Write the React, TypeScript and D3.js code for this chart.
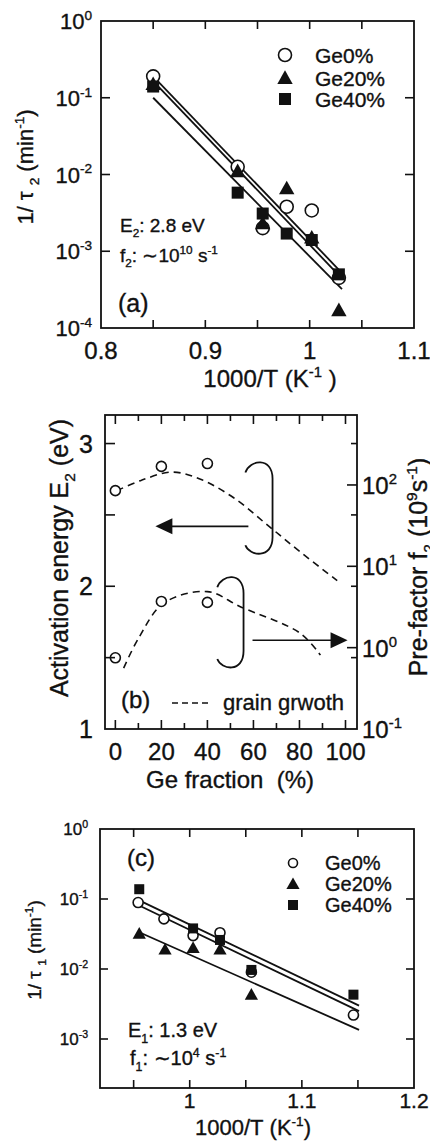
import React, { useEffect, useRef } from "react";
import * as d3 from "d3";

// ---- panel (a): 1/tau2 vs 1000/T ----
const aX = [0.85, 0.931, 0.955, 0.978, 1.002, 1.028];
const aGe0 = [0.19, 0.0126, 0.002, 0.0038, 0.0034, 0.00045];
const aGe20 = [0.15, 0.011, 0.0023, 0.0066, 0.0015, 0.00017];
const aGe40 = [0.14, 0.0058, 0.0031, 0.0017, 0.0014, 0.0005];
const aFitX = [0.85, 1.031];
const aFitGe0 = [0.19, 0.00052];
const aFitGe20 = [0.165, 0.00044];
const aFitGe40 = [0.1, 0.00032];
const aXTicks = [0.8, 0.9, 1, 1.1];
const aXLabels = ["0.8", "0.9", "1", "1.1"];
const aXMinor = [0.85, 0.95, 1.05];
const aYExp = [0, -1, -2, -3, -4];

// ---- panel (b): E2 and f2 vs Ge fraction ----
const geFrac = [0, 20, 40];
const e2Vals = [2.67, 2.84, 2.86];
const f2Vals = [0.75, 3.7, 3.6];
const e2CurveX = [0.7, 10.9, 24.6, 37, 51.4, 66, 80.4, 96.4];
const e2CurveY = [2.67, 2.74, 2.8, 2.75, 2.62, 2.43, 2.24, 2.04];
const f2CurveX = [3.6, 10.1, 21, 39.9, 54.3, 80.4, 89.1];
const f2CurveY = [0.56, 1.31, 3.52, 4.89, 3.19, 1.5, 0.81];
const bXTicks = [0, 20, 40, 60, 80, 100];
const bXMinor = [10, 30, 50, 70, 90];
const bLeftTicks = [1, 2, 3];
const bLeftMinor = [1.5, 2.5];
const bRightExp = [-1, 0, 1, 2];

// ---- panel (c): 1/tau1 vs 1000/T ----
const cGe0X = [0.954, 0.977, 1.003, 1.027, 1.055, 1.146];
const cGe0Y = [0.089, 0.052, 0.03, 0.033, 0.009, 0.0022];
const cGe20X = [0.955, 0.978, 1.003, 1.027, 1.055];
const cGe20Y = [0.032, 0.019, 0.02, 0.019, 0.0043];
const cGe40X = [0.955, 1.003, 1.027, 1.055, 1.146];
const cGe40Y = [0.138, 0.038, 0.026, 0.0097, 0.0043];
const cFitX = [0.954, 1.151];
const cFitTop = [0.097, 0.003];
const cFitMid = [0.082, 0.0025];
const cFitLow = [0.034, 0.00135];
const cXTicks = [1, 1.1, 1.2];
const cXLabels = ["1", "1.1", "1.2"];
const cXMinor = [0.95, 1.05, 1.15];
const cYExp = [0, -1, -2, -3];

const FONT = "'Liberation Sans', Arial, Helvetica, sans-serif";
const INK = "#111";

type Sel = d3.Selection<any, unknown, null, undefined>;
type Part = [string, number?];

// text with sub (-1) / superscript (1) pieces
function rich(g: Sel, x: number, y: number, size: number, parts: Part[], anchor = "start", rot = 0) {
  const t = g
    .append("text")
    .attr("transform", `translate(${x},${y}) rotate(${rot})`)
    .attr("font-family", FONT)
    .attr("font-size", size)
    .attr("fill", INK)
    .attr("stroke", INK)
    .attr("stroke-width", 0.35)
    .attr("text-anchor", anchor);
  let cur = 0;
  parts.forEach(([s, k = 0]) => {
    const target = k === 1 ? -size * 0.42 : k === -1 ? size * 0.28 : 0;
    t.append("tspan")
      .attr("dy", target - cur)
      .attr("font-size", k ? size * 0.62 : size)
      .text(s.replace(/ /g, "\u00A0"));
    cur = target;
  });
  return t;
}

function marker(g: Sel, kind: string, x: number, y: number, s: number) {
  if (kind === "circle") {
    g.append("circle").attr("cx", x).attr("cy", y).attr("r", s / 2)
      .attr("fill", "#fff").attr("stroke", INK).attr("stroke-width", 1.6);
  } else if (kind === "tri") {
    g.append("path")
      .attr("d", `M${x},${y - s * 0.55}L${x + s * 0.55},${y + s * 0.42}L${x - s * 0.55},${y + s * 0.42}Z`)
      .attr("fill", INK);
  } else {
    g.append("rect").attr("x", x - s / 2).attr("y", y - s / 2).attr("width", s).attr("height", s).attr("fill", INK);
  }
}

function frame(g: Sel, x0: number, y0: number, x1: number, y1: number) {
  g.append("rect").attr("x", x0).attr("y", y0).attr("width", x1 - x0).attr("height", y1 - y0)
    .attr("fill", "none").attr("stroke", INK).attr("stroke-width", 1.8);
}

function tick(g: Sel, x1: number, y1: number, x2: number, y2: number) {
  g.append("line").attr("x1", x1).attr("y1", y1).attr("x2", x2).attr("y2", y2)
    .attr("stroke", INK).attr("stroke-width", 1.6);
}

function drawA(svg: Sel) {
  const g = svg.append("g");
  const x = d3.scaleLinear().domain([0.8, 1.1]).range([101, 414]);
  const y = d3.scaleLog().domain([1e-4, 1]).range([328, 21]);
  const [x0, x1] = x.range();
  const [y1, y0] = y.range();

  // fit lines
  const line = d3.line<number>().x((_, i) => x(aFitX[i])).y((d) => y(d));
  [aFitGe0, aFitGe20, aFitGe40].forEach((f) =>
    g.append("path").attr("d", line(f)).attr("fill", "none").attr("stroke", INK).attr("stroke-width", 1.8)
  );

  aX.forEach((v, i) => marker(g, "circle", x(v), y(aGe0[i]), 13));
  aX.forEach((v, i) => marker(g, "tri", x(v), y(aGe20[i]), 14));
  aX.forEach((v, i) => marker(g, "sq", x(v), y(aGe40[i]), 12));

  frame(g, x0, y0, x1, y1);
  [...aXTicks, ...aXMinor].forEach((t) => {
    if (t <= 0.8 || t >= 1.1) return;
    tick(g, x(t), y1, x(t), y1 - 8);
    tick(g, x(t), y0, x(t), y0 + 8);
  });
  aYExp.forEach((e) => {
    const yy = y(Math.pow(10, e));
    if (e !== 0 && e !== -4) {
      tick(g, x0, yy, x0 + 9, yy);
      tick(g, x1, yy, x1 - 9, yy);
    }
    rich(g, 92, yy + 8, 22, [["10"], [String(e), 1]], "end");
  });
  aXTicks.forEach((t, i) => rich(g, x(t), 359, 24, [[aXLabels[i]]], "middle"));

  // legend
  const rows: [string, string][] = [["circle", "Ge0%"], ["tri", "Ge20%"], ["sq", "Ge40%"]];
  const rowY = [63, 86, 107];
  rows.forEach(([k, s], i) => {
    marker(g, k, 285, rowY[i] - 8, k === "circle" ? 13 : k === "tri" ? 14 : 12);
    rich(g, 315, rowY[i], 21, [[s]]);
  });

  rich(g, 120, 232, 19, [["E"], ["2", -1], [": 2.8 eV"]]);
  rich(g, 120, 262, 19, [["f"], ["2", -1], [": \u223C10"], ["10", 1], [" s"], ["-1", 1]]);
  rich(g, 118, 312, 25, [["(a)"]]);

  rich(g, 33, 167, 22, [["1/ \u03C4 "], ["2", -1], [" (min"], ["-1", 1], [")"]], "middle", -90);
  rich(g, 270, 387, 24, [["1000/T (K"], ["-1", 1], [" )"]], "middle");
}

function drawB(svg: Sel) {
  const g = svg.append("g");
  const x = d3.scaleLinear().domain([-4.5, 105]).range([105, 357]);
  const yL = d3.scaleLinear().domain([1, 3.2]).range([729, 415]);
  const yR = d3.scaleLog().domain([0.1, Math.pow(10, 2.86)]).range([729, 415]);
  const [x0, x1] = x.range();
  const [y1, y0] = yL.range();

  const dash = (xs: number[], ys: number[], sy: (v: number) => number) => {
    const line = d3.line<number>().x((d) => x(d)).y((_, i) => sy(ys[i])).curve(d3.curveCatmullRom);
    g.append("path").attr("d", line(xs)).attr("fill", "none").attr("stroke", INK)
      .attr("stroke-width", 1.6).attr("stroke-dasharray", "7,5");
  };
  dash(e2CurveX, e2CurveY, yL);
  dash(f2CurveX, f2CurveY, yR);

  geFrac.forEach((v, i) => marker(g, "circle", x(v), yL(e2Vals[i]), 10));
  geFrac.forEach((v, i) => marker(g, "circle", x(v), yR(f2Vals[i]), 10));

  // brackets + arrows (annotation, in data units of left axis)
  const bracket = (xa: number, xb: number, ya: number, yb: number) => {
    const L = x(xa), R = x(xb), T = yL(ya), B = yL(yb);
    g.append("path")
      .attr("d", `M${L},${T + 10} C${L + 4},${T - 3} ${R},${T - 6} ${R},${T + 16} L${R},${B - 16} C${R},${B + 6} ${L + 4},${B + 3} ${L},${B - 8}`)
      .attr("fill", "none").attr("stroke", INK).attr("stroke-width", 1.8);
  };
  bracket(56.5, 68.3, 2.867, 2.231);
  bracket(44.3, 55.7, 2.063, 1.434);
  const arrow = (xa: number, xb: number, yv: number) => {
    const a = x(xa), b = x(xb), yy = yL(yv);
    const dir = Math.sign(b - a);
    tick(g, a, yy, b - dir * 14, yy);
    g.append("path").attr("d", `M${b},${yy}L${b - dir * 17},${yy - 8}L${b - dir * 17},${yy + 8}Z`).attr("fill", INK);
  };
  arrow(57.8, 17.4, 2.42);
  arrow(59.6, 100.9, 1.622);

  frame(g, x0, y0, x1, y1);
  [...bXTicks, ...bXMinor].forEach((t) => {
    const len = t % 20 === 0 ? 9 : 6;
    tick(g, x(t), y1, x(t), y1 - len);
    tick(g, x(t), y0, x(t), y0 + len);
  });
  [...bLeftTicks, ...bLeftMinor].forEach((t) => {
    if (t === 1) return;
    tick(g, x0, yL(t), x0 + 10, yL(t));
    tick(g, x1, yL(t), x1 - 6, yL(t));
  });
  bRightExp.forEach((e) => {
    const yy = yR(Math.pow(10, e));
    if (e !== -1) tick(g, x1, yy, x1 - 10, yy);
    rich(g, 362, yy + 9, 24, [["10"], [String(e), 1]]);
  });
  bLeftTicks.forEach((t) => rich(g, 93, yL(t) + 9, 25, [[String(t)]], "end"));
  bXTicks.forEach((t) => rich(g, x(t), 760, 24, [[String(t)]], "middle"));

  rich(g, 121, 708, 24, [["(b)"]]);
  g.append("line").attr("x1", 172).attr("x2", 208).attr("y1", 703).attr("y2", 703)
    .attr("stroke", INK).attr("stroke-width", 1.6).attr("stroke-dasharray", "6,4");
  rich(g, 223, 710, 22, [["grain grwoth"]]);

  rich(g, 230, 788, 24, [["Ge fraction  (%)"]], "middle");
  rich(g, 68, 558, 25, [["Activation energy E"], ["2", -1], [" (eV)"]], "middle", -90);
  rich(g, 427, 567, 25, [["Pre-factor f"], ["2", -1], [" (10"], ["9", 1], ["s"], ["-1", 1], [")"]], "middle", -90);
}

function drawC(svg: Sel) {
  const g = svg.append("g");
  const x = d3.scaleLinear().domain([0.92, 1.2]).range([100, 414]);
  const y = d3.scaleLog().domain([Math.pow(10, -3.7), 1]).range([1088, 829]);
  const [x0, x1] = x.range();
  const [y1, y0] = y.range();

  const line = d3.line<number>().x((_, i) => x(cFitX[i])).y((d) => y(d));
  [cFitTop, cFitMid, cFitLow].forEach((f) =>
    g.append("path").attr("d", line(f)).attr("fill", "none").attr("stroke", INK).attr("stroke-width", 1.8)
  );

  cGe0X.forEach((v, i) => marker(g, "circle", x(v), y(cGe0Y[i]), 10));
  cGe20X.forEach((v, i) => marker(g, "tri", x(v), y(cGe20Y[i]), 12));
  cGe40X.forEach((v, i) => marker(g, "sq", x(v), y(cGe40Y[i]), 10));

  frame(g, x0, y0, x1, y1);
  [...cXTicks, ...cXMinor].forEach((t) => {
    if (t >= 1.2) return;
    tick(g, x(t), y1, x(t), y1 - 8);
    tick(g, x(t), y0, x(t), y0 + 8);
  });
  cYExp.forEach((e) => {
    const yy = y(Math.pow(10, e));
    if (e !== 0) {
      tick(g, x0, yy, x0 + 8, yy);
      tick(g, x1, yy, x1 - 8, yy);
    }
    rich(g, 88, yy + 6, 17, [["10"], [String(e), 1]], "end");
  });
  cXTicks.forEach((t, i) => rich(g, x(t), 1108, 21, [[cXLabels[i]]], "middle"));

  const rows: [string, string][] = [["circle", "Ge0%"], ["tri", "Ge20%"], ["sq", "Ge40%"]];
  const rowY = [870, 891, 912];
  rows.forEach(([k, s], i) => {
    marker(g, k, 293, rowY[i] - 7, k === "circle" ? 9 : k === "tri" ? 12 : 10);
    rich(g, 325, rowY[i], 20, [[s]]);
  });

  rich(g, 127, 866, 24, [["(c)"]]);
  rich(g, 128, 1037, 20, [["E"], ["1", -1], [": 1.3 eV"]]);
  rich(g, 130, 1065, 20, [["f"], ["1", -1], [": \u223C10"], ["4", 1], [" s"], ["-1", 1]]);

  rich(g, 41, 950, 19, [["1/ \u03C4 "], ["1", -1], [" (min"], ["-1", 1], [")"]], "middle", -90);
  rich(g, 253, 1135, 22, [["1000/T (K"], ["-1", 1], [")"]], "middle");
}

const App: React.FC = () => {
  const ref = useRef<SVGSVGElement>(null);

  useEffect(() => {
    if (!ref.current) return;
    const svg = d3.select(ref.current) as Sel;
    svg.selectAll("*").remove();
    drawA(svg);
    drawB(svg);
    drawC(svg);
  }, []);

  return (
    <svg
      ref={ref}
      width={430}
      height={1147}
      style={{ position: "absolute", left: 0, top: 0, background: "#fff" }}
    />
  );
};

export default App;
